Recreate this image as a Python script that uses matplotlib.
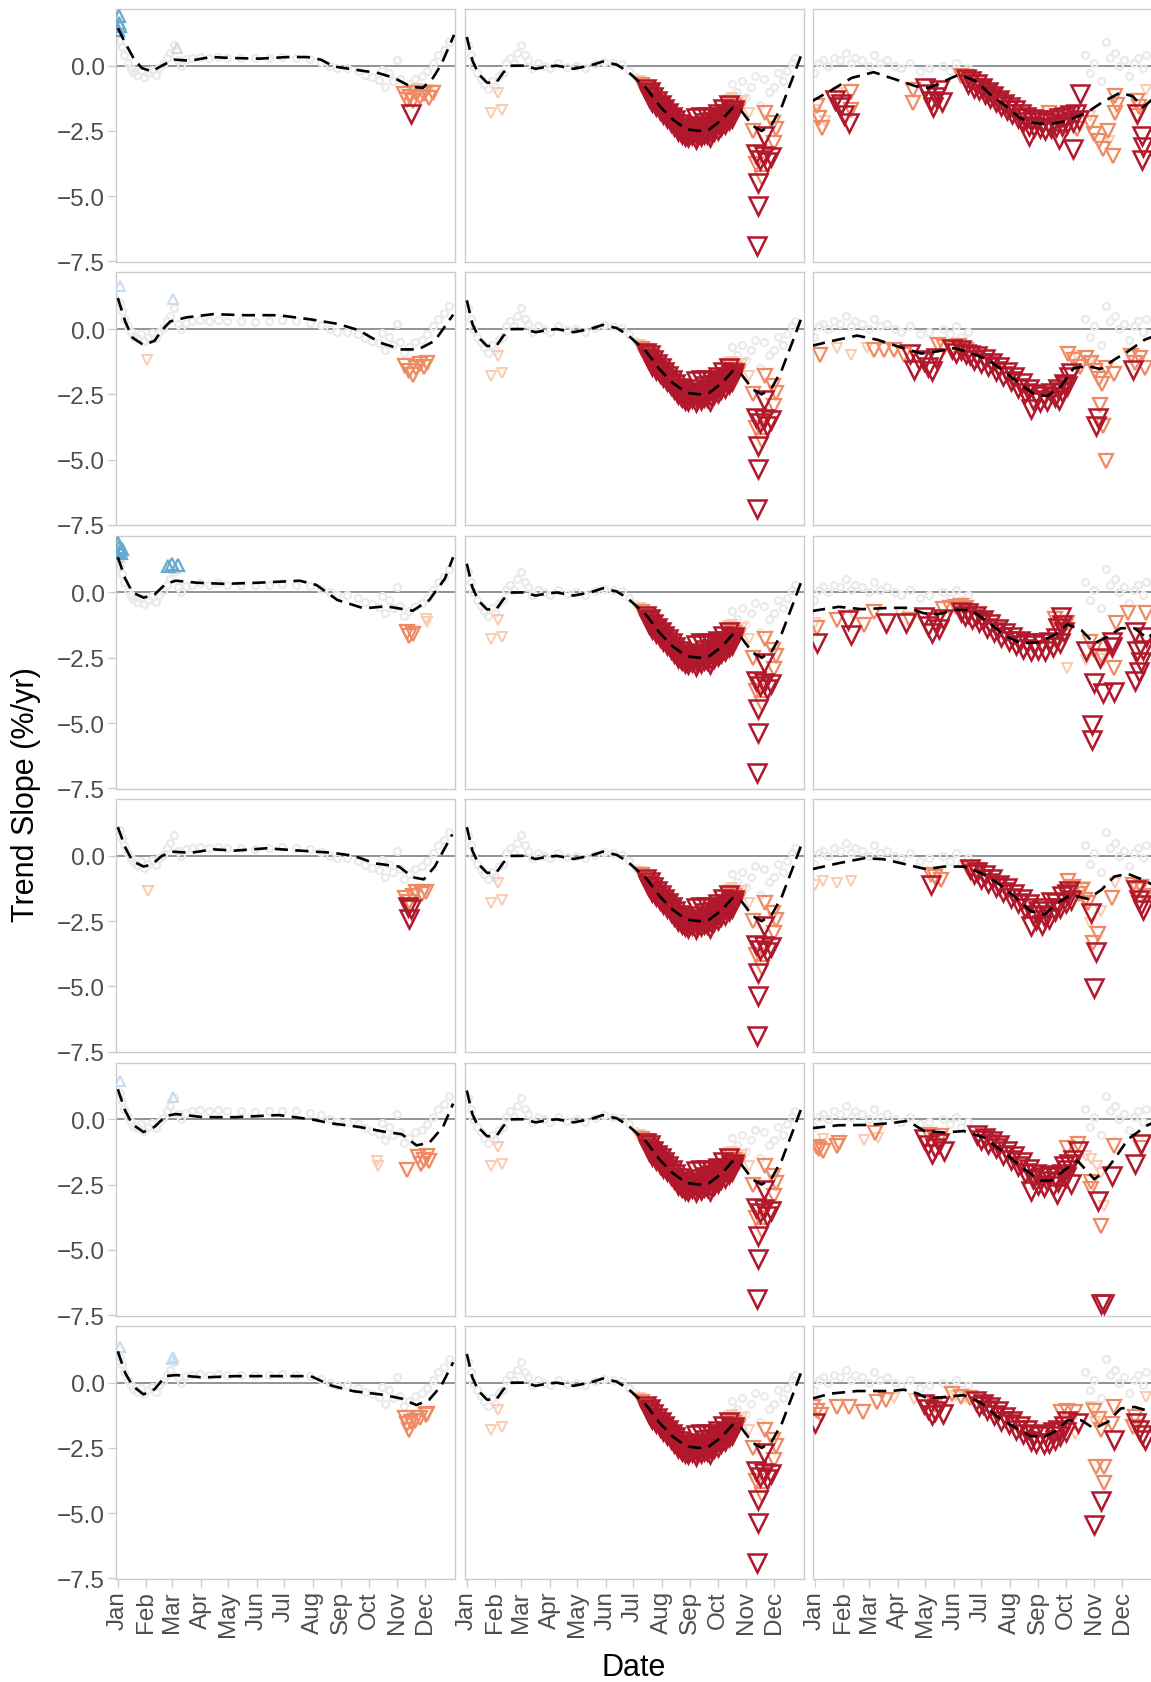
import matplotlib
matplotlib.use('Agg')
import matplotlib.pyplot as plt

plt.rcParams['font.family'] = ['Liberation Sans', 'DejaVu Sans']

months = ['Jan', 'Feb', 'Mar', 'Apr', 'May', 'Jun', 'Jul', 'Aug', 'Sep', 'Oct', 'Nov', 'Dec']
month_days = [1, 32, 60, 91, 121, 152, 182, 213, 244, 274, 305, 335]
y_ticks = [-7.5, -5.0, -2.5, 0.0]
y_tick_labels = ['\u22127.5', '\u22125.0', '\u22122.5', '0.0']

# smoothed trend curves (day of year, slope)
r1c1_curve = [(1, 1.44), (9, 0.87), (18, 0.29), (27, -0.09), (38, -0.22), (51, 0.04), (62, 0.23), (80, 0.19),
              (102, 0.33), (127, 0.29), (156, 0.27), (186, 0.33), (207, 0.33), (222, 0.23), (236, -0.03),
              (258, -0.15), (284, -0.28), (302, -0.47), (320, -0.81), (333, -0.85), (344, -0.47), (353, 0.04),
              (367, 1.18)]
r2c1_curve = [(1, 1.19), (9, 0.29), (17, -0.33), (29, -0.61), (41, -0.45), (49, -0.04), (58, 0.29), (76, 0.45),
              (105, 0.57), (140, 0.53), (176, 0.53), (211, 0.37), (240, 0.2), (263, -0.04), (287, -0.53),
              (310, -0.78), (328, -0.78), (346, -0.45), (366, 0.55)]
r3c1_curve = [(1, 1.35), (9, 0.53), (17, 0.0), (29, -0.2), (41, -0.08), (53, 0.33), (64, 0.45), (88, 0.37),
              (117, 0.33), (152, 0.37), (199, 0.45), (217, 0.29), (240, -0.29), (269, -0.61), (293, -0.53),
              (322, -0.7), (340, -0.29), (357, 0.53), (366, 1.35)]
r4c1_curve = [(1, 1.1), (9, 0.33), (17, -0.2), (29, -0.41), (38, -0.33), (49, 0.0), (60, 0.16), (81, 0.12),
              (105, 0.25), (128, 0.2), (163, 0.29), (199, 0.2), (234, 0.12), (258, 0.0), (281, -0.29),
              (307, -0.41), (322, -0.82), (334, -0.9), (346, -0.41), (365, 0.82)]
r5c1_curve = [(1, 1.15), (9, 0.33), (17, -0.2), (29, -0.49), (41, -0.29), (53, 0.12), (64, 0.2), (94, 0.08),
              (129, 0.08), (176, 0.16), (211, 0.0), (234, -0.16), (263, -0.29), (293, -0.49), (310, -0.57),
              (326, -1.0), (340, -0.9), (355, -0.29), (366, 0.6)]
r6c1_curve = [(1, 1.2), (9, 0.37), (17, -0.12), (29, -0.45), (41, -0.25), (53, 0.25), (64, 0.29), (94, 0.2),
              (129, 0.25), (176, 0.25), (211, 0.25), (234, -0.12), (258, -0.33), (287, -0.45), (310, -0.61),
              (326, -0.86), (340, -0.65), (353, -0.12), (366, 0.78)]
c2_curve = [(1, 1.1), (7, 0.2), (14, -0.33), (23, -0.65), (33, -0.65), (41, -0.25), (50, 0.0), (62, 0.0),
            (76, -0.12), (88, -0.04), (99, 0.0), (117, -0.12), (135, 0.0), (149, 0.16), (164, 0.04), (176, -0.22),
            (196, -0.85), (211, -1.55), (225, -2.06), (240, -2.44), (254, -2.5), (265, -2.44), (279, -2.06),
            (290, -1.62), (300, -1.74), (312, -2.3), (322, -2.5), (333, -2.25), (344, -1.55), (355, -0.53),
            (366, 0.5)]
r1c3_curve = [(-2, -1.36), (20, -0.92), (41, -0.47), (65, -0.25), (89, -0.53), (111, -0.79), (125, -0.85),
              (144, -0.56), (158, -0.34), (177, -0.6), (194, -1.17), (209, -1.55), (224, -2.0), (238, -2.19),
              (256, -2.25), (275, -2.12), (297, -1.8), (313, -1.42), (333, -1.04), (347, -1.17), (358, -1.6),
              (368, -1.3)]
r2c3_curve = [(-2, -0.64), (18, -0.47), (47, -0.25), (69, -0.41), (91, -0.66), (117, -0.94), (135, -0.85),
              (153, -0.73), (171, -0.92), (189, -1.17), (207, -1.62), (225, -2.12), (240, -2.5), (254, -2.57),
              (269, -2.19), (283, -1.49), (298, -1.42), (312, -1.53), (327, -1.17), (342, -0.85), (360, -0.41),
              (368, -0.3)]
r3c3_curve = [(-2, -0.71), (27, -0.55), (52, -0.64), (84, -0.59), (102, -0.59), (120, -0.8), (135, -0.84),
              (153, -0.67), (171, -0.67), (189, -1.12), (207, -1.63), (225, -1.95), (244, -1.91), (262, -1.63),
              (276, -1.22), (291, -1.44), (305, -1.95), (320, -1.69), (334, -1.37), (349, -1.37), (363, -1.76),
              (368, -1.6)]
r4c3_curve = [(-2, -0.51), (27, -0.28), (55, -0.09), (76, -0.13), (102, -0.34), (122, -0.51), (142, -0.41),
              (163, -0.41), (182, -0.66), (200, -1.04), (218, -1.55), (236, -2.12), (251, -2.25), (265, -1.81),
              (280, -1.49), (298, -1.65), (313, -1.3), (327, -0.79), (342, -0.69), (362, -0.98), (368, -1.1)]
r5c3_curve = [(-2, -0.34), (27, -0.23), (55, -0.22), (84, -0.15), (102, -0.06), (120, -0.45), (142, -0.51),
              (163, -0.45), (185, -0.7), (207, -1.27), (229, -1.91), (247, -2.35), (258, -2.35), (272, -1.97),
              (287, -1.59), (305, -2.29), (316, -2.04), (327, -1.53), (342, -0.76), (362, -0.25), (368, -0.15)]
r6c3_curve = [(-2, -0.61), (18, -0.42), (47, -0.32), (84, -0.32), (98, -0.27), (113, -0.42), (124, -0.61),
              (142, -0.55), (163, -0.48), (182, -0.78), (200, -1.31), (218, -1.69), (236, -2.05), (251, -2.07),
              (265, -1.82), (276, -1.44), (291, -1.44), (305, -1.76), (320, -1.5), (334, -0.99), (349, -0.93),
              (362, -1.06), (368, -1.0)]

# non-significant points (grey circles), one set per column
c1_grey = [(3, 1.0), (5, 0.7), (8, 0.4), (12, 0.1), (15, -0.1), (18, -0.25), (22, -0.35), (26, -0.2), (30, -0.45),
           (34, -0.3), (38, -0.15), (42, -0.35), (46, -0.1), (50, 0.05), (54, 0.3), (58, 0.5), (62, 0.8), (66, 0.2),
           (70, 0.0), (75, 0.25), (82, 0.3), (90, 0.35), (100, 0.3), (110, 0.35), (120, 0.3), (135, 0.3),
           (150, 0.28), (165, 0.3), (180, 0.33), (195, 0.3), (210, 0.25), (222, 0.15), (232, 0.0), (240, -0.1),
           (250, -0.1), (262, -0.2), (270, -0.35), (278, -0.45), (285, -0.55), (288, -0.15), (292, -0.8),
           (296, -0.3), (300, -0.6), (305, 0.2), (308, -0.5), (312, -0.9), (318, -0.7), (325, -0.5), (332, -0.4),
           (338, -0.2), (344, 0.1), (350, 0.4), (356, 0.6), (362, 0.9)]
c2_grey = [(2, 0.8), (5, 0.4), (8, 0.0), (12, -0.3), (16, -0.5), (20, -0.7), (24, -0.9), (28, -0.6), (32, -0.8),
           (36, -0.4), (40, -0.3), (44, 0.1), (48, 0.3), (52, 0.1), (56, 0.5), (60, 0.8), (64, 0.4), (68, 0.2),
           (72, -0.1), (78, 0.1), (85, 0.0), (92, -0.1), (100, 0.1), (110, -0.05), (120, 0.0), (130, -0.1),
           (140, 0.05), (150, 0.15), (160, 0.1), (170, 0.05), (178, -0.2), (185, -0.45), (290, -0.7), (295, -1.0),
           (300, -0.6), (305, -1.2), (310, -0.8), (315, -0.4), (320, -1.5), (325, -0.5), (330, -1.0), (335, -0.8),
           (340, -0.3), (345, -0.6), (350, -0.2), (355, 0.1), (358, 0.3)]
c3_grey = [(0, -0.3), (5, 0.1), (10, 0.2), (15, 0.0), (22, 0.3), (28, 0.2), (35, 0.5), (40, 0.1), (45, 0.3),
           (52, 0.2), (60, 0.0), (65, 0.4), (72, 0.1), (80, 0.2), (88, 0.0), (95, -0.1), (105, 0.1), (115, -0.2),
           (125, -0.1), (140, 0.0), (148, -0.2), (155, 0.1), (160, -0.3), (168, -0.1), (295, 0.4), (300, -0.3),
           (305, 0.1), (312, -0.6), (318, 0.9), (322, 0.3), (328, 0.5), (332, 0.0), (338, 0.2), (343, -0.4),
           (348, 0.1), (353, 0.3), (358, -0.1), (362, 0.4)]

# significant points: (day, slope, level); 3/2/1 = decreasing strong/mid/weak, -2/-1 = increasing mid/weak
r1c1_tri = [(2, 1.9, -2), (2, 1.65, -2), (3, 1.5, -2), (1, 1.35, -2), (65, 0.67, -1),
            (327, -0.9, 1), (340, -0.95, 1),
            (313, -1.1, 2), (316, -1.3, 2), (319, -1.2, 2), (322, -1.35, 2), (326, -1.05, 2), (330, -1.2, 2),
            (334, -1.1, 2), (340, -1.25, 2), (344, -1.05, 2), (320, -1.87, 3)]
r2c1_tri = [(3, 1.64, -1), (61, 1.15, -1), (33, -1.2, 1),
            (314, -1.4, 2), (318, -1.6, 2), (322, -1.75, 2), (326, -1.5, 2), (330, -1.35, 2), (334, -1.45, 2),
            (337, -1.3, 2)]
r3c1_tri = [(1, 1.9, -2), (2, 1.75, -2), (3, 1.6, -2), (4, 1.5, -2), (2, 1.35, -1), (5, 1.65, -2),
            (56, 1.0, -2), (60, 1.1, -2), (63, 0.95, -1), (66, 1.05, -2),
            (336, -1.0, 1), (338, -1.15, 1), (316, -1.5, 2), (318, -1.65, 2), (322, -1.6, 2)]
r4c1_tri = [(34, -1.35, 1), (314, -1.6, 2), (318, -1.75, 2), (322, -1.55, 2), (326, -1.4, 2), (332, -1.45, 2),
            (336, -1.4, 2), (317, -1.95, 3), (318, -2.4, 3), (320, -2.05, 3)]
r5c1_tri = [(3, 1.45, -1), (61, 0.85, -1), (283, -1.6, 1), (284, -1.8, 1),
            (316, -1.95, 2), (328, -1.45, 2), (331, -1.7, 2), (334, -1.55, 2), (337, -1.4, 2), (340, -1.6, 2)]
r6c1_tri = [(3, 1.35, -1), (60, 0.9, -1), (61, 1.0, -1),
            (314, -1.35, 2), (316, -1.6, 2), (318, -1.8, 2), (320, -1.5, 2), (324, -1.45, 2), (330, -1.35, 2),
            (336, -1.25, 2), (338, -1.2, 2)]

c2_tri = [(27, -1.8, 1), (39, -1.7, 1), (35, -1.05, 1), (190, -0.6, 1), (193, -0.7, 1),
          (192, -0.75, 2), (195, -0.85, 2), (198, -0.95, 2), (201, -1.1, 2),
          (286, -1.3, 1), (290, -1.25, 1), (294, -1.4, 1), (298, -1.5, 1), (300, -1.35, 1), (308, -1.8, 1),
          (288, -1.45, 2), (292, -1.55, 2), (296, -1.7, 2),
          (326, -1.8, 2), (313, -2.5, 2), (334, -2.19, 2), (316, -3.78, 2), (322, -4.29, 2), (335, -2.95, 2),
          (338, -2.44, 2),
          (325, -2.7, 3), (316, -3.4, 3), (320, -3.6, 3), (324, -3.45, 3), (328, -3.7, 3), (332, -3.5, 3),
          (318, -4.48, 3), (318, -5.37, 3), (317, -6.9, 3)]
c2_band = [(196, -0.9), (198, -1.1), (200, -1.0), (202, -1.3), (204, -1.2), (206, -1.45), (208, -1.35), (210, -1.6),
           (212, -1.5), (214, -1.75), (216, -1.65), (218, -1.9), (220, -1.8), (222, -2.05), (224, -1.95),
           (226, -2.25), (228, -2.1), (230, -2.4), (232, -2.25), (234, -2.55), (236, -2.35), (238, -2.7),
           (240, -2.45), (242, -2.75), (244, -2.5), (246, -2.65), (248, -2.4), (250, -2.8), (252, -2.55),
           (254, -2.3), (256, -2.7), (258, -2.45), (260, -2.2), (262, -2.6), (264, -2.35), (266, -2.75),
           (268, -2.3), (270, -2.5), (272, -2.15), (274, -2.45), (276, -2.05), (278, -2.3), (280, -1.95),
           (282, -2.25), (284, -1.85), (286, -2.1), (288, -1.75), (290, -2.0), (292, -1.7), (250, -2.0),
           (256, -1.95), (262, -1.95), (268, -2.0), (274, -1.85), (280, -1.65), (286, -1.5),
           (199, -1.2), (203, -1.4), (207, -1.55), (211, -1.7), (215, -1.85), (219, -2.0), (223, -2.15),
           (227, -2.3), (231, -2.5), (235, -2.6), (239, -2.6), (243, -2.6), (247, -2.55), (251, -2.65),
           (255, -2.55), (259, -2.6), (263, -2.5), (267, -2.55), (271, -2.35), (275, -2.25), (279, -2.15),
           (283, -2.0), (287, -1.9), (291, -1.85)]

r1c3_tri = [(3, -1.55, 2), (5, -2.0, 2), (9, -2.38, 2), (40, -1.0, 2), (40, -1.68, 2), (108, -0.92, 2),
            (108, -1.42, 2), (160, -0.4, 2), (165, -0.45, 2), (170, -0.55, 2), (176, -0.65, 2), (256, -1.8, 2),
            (286, -2.44, 2), (301, -2.2, 2), (305, -2.6, 2), (310, -2.9, 2), (315, -3.2, 2), (320, -2.5, 2),
            (326, -3.45, 2), (328, -1.17, 2), (330, -1.5, 2), (328, -1.8, 2), (352, -1.36, 2), (354, -1.6, 2),
            (352, -1.93, 2),
            (0, -1.68, 1), (12, -2.12, 1), (26, -1.04, 1), (301, -1.93, 1), (321, -2.88, 1), (361, -0.92, 1),
            (23, -1.3, 3), (28, -1.6, 3), (33, -1.9, 3), (38, -2.19, 3), (30, -1.45, 3), (121, -0.85, 3),
            (124, -1.1, 3), (127, -1.35, 3), (130, -1.6, 3), (133, -1.2, 3), (136, -0.95, 3), (139, -1.4, 3),
            (352, -1.87, 3), (357, -2.7, 3), (358, -3.1, 3), (357, -3.6, 3), (234, -2.7, 3), (267, -2.82, 3),
            (282, -3.2, 3), (290, -1.1, 3)]
r1c3_band = [(165, -0.5), (168, -0.7), (171, -0.6), (174, -0.85), (177, -0.7), (180, -0.95), (183, -0.85),
             (186, -1.1), (189, -1.0), (192, -1.25), (195, -1.15), (198, -1.4), (201, -1.3), (204, -1.55),
             (207, -1.45), (210, -1.7), (213, -1.6), (216, -1.85), (219, -1.7), (222, -2.0), (225, -1.85),
             (228, -2.15), (231, -1.95), (234, -2.3), (237, -2.05), (240, -2.35), (243, -2.1), (246, -2.4),
             (249, -2.15), (252, -2.45), (255, -2.2), (258, -2.4), (261, -2.1), (264, -2.35), (267, -2.0),
             (270, -2.3), (273, -1.95), (276, -2.25), (279, -1.9), (282, -2.15), (285, -1.85), (288, -2.1)]

r2c3_tri = [(7, -0.98, 2), (65, -0.79, 2), (76, -0.79, 2), (87, -0.79, 2), (98, -0.98, 2), (135, -0.6, 2),
            (142, -0.7, 2), (150, -0.75, 2), (158, -0.65, 2), (165, -0.8, 2), (277, -0.95, 2), (283, -1.2, 2),
            (290, -1.45, 2), (296, -1.1, 2), (302, -1.3, 2), (306, -1.6, 2), (310, -1.9, 2), (314, -2.12, 2),
            (318, -1.5, 2), (311, -2.89, 2), (315, -3.7, 2), (318, -5.05, 2), (327, -1.74, 2), (345, -1.04, 2),
            (350, -1.3, 2), (355, -1.1, 2), (360, -1.49, 2),
            (25, -0.73, 1), (40, -0.98, 1), (58, -0.73, 1), (286, -1.05, 1), (300, -1.25, 1),
            (105, -0.95, 3), (109, -1.55, 3), (114, -1.2, 3), (120, -1.23, 3), (124, -1.45, 3), (129, -1.62, 3),
            (133, -1.1, 3), (309, -3.4, 3), (307, -3.7, 3), (347, -1.55, 3)]
r2c3_band = [(150, -0.75), (155, -0.9), (160, -0.8), (165, -0.95), (170, -1.0), (174, -1.2), (178, -1.05),
             (182, -1.3), (186, -1.15), (190, -1.4), (194, -1.3), (198, -1.6), (202, -1.45), (206, -1.8),
             (210, -1.65), (214, -2.0), (218, -1.85), (222, -2.25), (226, -2.05), (230, -2.45), (234, -2.3),
             (238, -2.7), (236, -3.08), (242, -2.5), (246, -2.8), (250, -2.55), (254, -2.75), (258, -2.45),
             (262, -2.6), (266, -2.3), (267, -2.7), (270, -2.4), (272, -2.1), (275, -2.2), (278, -1.85),
             (280, -1.7)]

r3c3_tri = [(1, -1.18, 1), (44, -0.87, 1), (94, -0.8, 1), (276, -2.9, 1), (296, -2.6, 1), (311, -2.55, 1),
            (3, -1.37, 2), (25, -1.06, 2), (55, -1.25, 2), (65, -0.74, 2), (105, -1.06, 2), (140, -0.65, 2),
            (148, -0.6, 2), (155, -0.55, 2), (160, -0.5, 2), (165, -0.6, 2), (262, -1.0, 2), (276, -1.18, 2),
            (300, -1.9, 2), (305, -2.2, 2), (315, -2.5, 2), (327, -2.9, 2), (329, -1.18, 2), (342, -0.8, 2),
            (361, -0.8, 2),
            (3, -1.95, 3), (37, -1.06, 3), (40, -1.63, 3), (78, -1.18, 3), (100, -1.18, 3), (120, -0.95, 3),
            (124, -1.3, 3), (128, -1.55, 3), (132, -1.15, 3), (136, -1.4, 3), (140, -1.0, 3), (269, -0.93, 3),
            (296, -2.26, 3), (311, -2.5, 3), (305, -3.47, 3), (315, -3.85, 3), (327, -3.8, 3), (303, -5.06, 3),
            (303, -5.64, 3), (325, -1.9, 3), (325, -2.1, 3), (349, -1.5, 3), (352, -2.26, 3), (356, -2.65, 3),
            (354, -3.03, 3), (350, -3.4, 3), (358, -2.2, 3), (362, -1.7, 3)]
r3c3_band = [(160, -0.75), (164, -0.9), (168, -0.8), (172, -1.0), (176, -0.9), (180, -1.15), (184, -1.05),
             (188, -1.35), (192, -1.2), (196, -1.5), (200, -1.4), (204, -1.7), (208, -1.55), (212, -1.85),
             (216, -1.7), (220, -2.0), (224, -1.85), (228, -2.15), (232, -1.95), (236, -2.25), (240, -2.0),
             (244, -2.2), (248, -1.95), (252, -2.25), (256, -1.9), (260, -2.1), (264, -1.75), (268, -1.95),
             (272, -1.5), (270, -1.25), (266, -1.35)]

r4c3_tri = [(1, -1.1, 1), (10, -0.98, 1), (25, -1.04, 1), (40, -0.98, 1), (300, -2.57, 1), (313, -2.12, 1),
            (328, -1.04, 1), (295, -1.2, 1),
            (127, -0.73, 2), (132, -0.8, 2), (138, -0.92, 2), (168, -0.45, 2), (172, -0.5, 2), (176, -0.55, 2),
            (277, -0.98, 2), (282, -1.2, 2), (288, -1.45, 2), (292, -1.3, 2), (295, -1.68, 2), (298, -1.8, 2),
            (309, -3.0, 2), (304, -3.33, 2), (324, -1.6, 2), (347, -1.1, 2), (352, -1.3, 2), (356, -1.2, 2),
            (360, -1.55, 2),
            (127, -1.1, 3), (302, -2.19, 3), (307, -3.7, 3), (305, -5.05, 3), (351, -1.3, 3), (354, -1.7, 3),
            (356, -1.9, 3), (358, -2.06, 3)]
r4c3_band = [(170, -0.5), (174, -0.7), (178, -0.6), (182, -0.9), (186, -0.75), (190, -1.05), (194, -0.9),
             (198, -1.2), (202, -1.1), (206, -1.4), (210, -1.25), (214, -1.6), (218, -1.45), (222, -1.8),
             (226, -1.65), (230, -2.0), (234, -1.85), (236, -2.7), (238, -2.25), (242, -2.45), (244, -2.1),
             (248, -2.65), (250, -2.3), (252, -2.0), (256, -2.4), (258, -1.75), (262, -2.1), (264, -1.8),
             (268, -2.0), (270, -1.55), (274, -1.8), (276, -1.45), (280, -1.7), (278, -1.35)]

r5c3_tri = [(3, -1.08, 2), (6, -1.15, 2), (10, -1.21, 2), (25, -1.02, 2), (27, -0.9, 2), (67, -0.51, 2),
            (125, -0.6, 2), (132, -0.75, 2), (138, -0.65, 2), (287, -0.95, 2), (276, -1.1, 2), (302, -2.42, 2),
            (302, -2.67, 2), (313, -4.07, 2), (327, -1.02, 2), (356, -1.1, 2),
            (10, -0.76, 1), (55, -0.79, 1), (70, -0.7, 1), (302, -1.53, 1), (308, -1.8, 1), (313, -2.04, 1),
            (316, -3.31, 1), (296, -1.4, 1),
            (120, -0.75, 3), (124, -1.0, 3), (128, -1.34, 3), (132, -1.1, 3), (136, -0.9, 3), (142, -1.2, 3),
            (287, -1.21, 3), (309, -3.12, 3), (313, -7.06, 3), (316, -7.06, 3), (325, -2.16, 3), (349, -1.72, 3),
            (356, -0.95, 3)]
r5c3_band = [(178, -0.6), (182, -0.8), (186, -0.7), (190, -0.95), (194, -0.85), (198, -1.1), (202, -1.0),
             (206, -1.35), (210, -1.2), (214, -1.55), (218, -1.4), (222, -1.8), (226, -1.65), (230, -2.05),
             (234, -1.9), (236, -2.74), (238, -2.3), (242, -2.1), (244, -2.5), (248, -2.2), (250, -2.6),
             (254, -2.35), (256, -2.15), (260, -2.55), (262, -2.2), (265, -2.86), (266, -2.4), (270, -2.1),
             (272, -1.8), (274, -2.2), (276, -1.95), (278, -1.7), (280, -2.48), (282, -1.55)]

r6c3_tri = [(-1, -0.95, 2), (3, -1.1, 2), (8, -1.25, 2), (25, -0.93, 2), (38, -0.93, 2), (53, -1.12, 2),
            (69, -0.74, 2), (78, -0.67, 2), (132, -0.85, 2), (150, -0.45, 2), (160, -0.55, 2), (170, -0.6, 2),
            (269, -1.12, 2), (276, -1.1, 2), (284, -1.12, 2), (305, -1.1, 2), (310, -1.4, 2), (313, -1.8, 2),
            (307, -3.22, 2), (316, -3.22, 2), (316, -3.85, 2), (325, -1.6, 2), (327, -0.93, 2), (349, -1.31, 2),
            (347, -1.7, 2),
            (87, -0.57, 1), (109, -0.61, 1), (155, -0.5, 1), (165, -0.6, 1), (284, -1.95, 1), (302, -0.93, 1),
            (306, -1.5, 1), (362, -0.55, 1),
            (1, -1.56, 3), (120, -0.8, 3), (124, -1.0, 3), (128, -1.25, 3), (132, -1.1, 3), (136, -0.9, 3),
            (140, -1.2, 3), (287, -1.56, 3), (313, -4.55, 3), (305, -5.44, 3), (327, -2.2, 3), (351, -1.56, 3),
            (354, -1.8, 3), (357, -2.0, 3), (360, -2.2, 3)]
r6c3_band = [(176, -0.7), (180, -0.9), (184, -0.8), (188, -1.05), (192, -0.95), (196, -1.25), (200, -1.1),
             (204, -1.45), (208, -1.3), (212, -1.6), (216, -1.45), (220, -1.8), (224, -1.65), (228, -1.95),
             (232, -1.8), (236, -2.25), (240, -2.0), (242, -2.3), (246, -2.05), (250, -2.35), (252, -1.95),
             (256, -2.3), (260, -1.9), (262, -2.2), (266, -1.8), (268, -2.05), (272, -1.65), (274, -1.9),
             (276, -1.45)]

grid = [
    [(r1c1_curve, c1_grey, r1c1_tri, []), (c2_curve, c2_grey, c2_tri, c2_band), (r1c3_curve, c3_grey, r1c3_tri, r1c3_band)],
    [(r2c1_curve, c1_grey, r2c1_tri, []), (c2_curve, c2_grey, c2_tri, c2_band), (r2c3_curve, c3_grey, r2c3_tri, r2c3_band)],
    [(r3c1_curve, c1_grey, r3c1_tri, []), (c2_curve, c2_grey, c2_tri, c2_band), (r3c3_curve, c3_grey, r3c3_tri, r3c3_band)],
    [(r4c1_curve, c1_grey, r4c1_tri, []), (c2_curve, c2_grey, c2_tri, c2_band), (r4c3_curve, c3_grey, r4c3_tri, r4c3_band)],
    [(r5c1_curve, c1_grey, r5c1_tri, []), (c2_curve, c2_grey, c2_tri, c2_band), (r5c3_curve, c3_grey, r5c3_tri, r5c3_band)],
    [(r6c1_curve, c1_grey, r6c1_tri, []), (c2_curve, c2_grey, c2_tri, c2_band), (r6c3_curve, c3_grey, r6c3_tri, r6c3_band)],
]

colors = {3: '#B2182B', 2: '#EF8A62', 1: '#FBCBB1', -1: '#C6DBEF', -2: '#67A9CF'}
sizes = {3: 12.5, 2: 9.5, 1: 7, -1: 7, -2: 8.5}
widths = {3: 1.8, 2: 1.6, 1: 1.4, -1: 1.4, -2: 1.6}

W, H = 1151, 1683
fig = plt.figure(figsize=(W / 100, H / 100), dpi=100)

col_left = [116, 465, 813]
panel_w, panel_h = 339, 253
row_step = 263.4

for r in range(6):
    for c in range(3):
        curve, grey, tri, band = grid[r][c]
        top = 10 + r * row_step
        ax = fig.add_axes([col_left[c] / W, 1 - (top + panel_h) / H, panel_w / W, panel_h / H])
        ax.axhline(0, color='#808080', lw=1.2, zorder=1)

        ax.plot([p[0] for p in grey], [p[1] for p in grey], 'o', ms=5, mfc='none', mec='#EAEAEA',
                mew=1.6, zorder=2)

        for lvl in [1, -1, -2, 2, 3]:
            pts = [(d, v) for d, v, l in tri if l == lvl]
            if lvl == 3:
                pts = pts + band
            if not pts:
                continue
            ax.plot([p[0] for p in pts], [p[1] for p in pts], 'v' if lvl > 0 else '^',
                    ms=sizes[lvl], mfc='none', mec=colors[lvl], mew=widths[lvl], zorder=3 + abs(lvl) * 0.1)

        ax.plot([p[0] for p in curve], [p[1] for p in curve], color='black', lw=1.9,
                dashes=(5, 2.8), zorder=6)

        ax.set_xlim(-1, 368)
        ax.set_ylim(-7.52, 2.17)
        for s in ax.spines.values():
            s.set_color('#CCCCCC')
            s.set_linewidth(1.0)

        ax.set_yticks(y_ticks)
        ax.set_xticks(month_days)
        if c == 0:
            ax.set_yticklabels(y_tick_labels)
            ax.tick_params(axis='y', length=6, width=1, color='#CCCCCC', labelcolor='#4D4D4D',
                           labelsize=17.5, pad=2)
        else:
            ax.tick_params(axis='y', left=False, labelleft=False)
        if r == 5:
            ax.set_xticklabels(months, rotation=90)
            ax.tick_params(axis='x', length=6, width=1, color='#CCCCCC', labelcolor='#4D4D4D',
                           labelsize=17.5, pad=2)
        else:
            ax.tick_params(axis='x', bottom=False, labelbottom=False)

fig.text(634 / W, 1 - 1668 / H, 'Date', ha='center', va='center', fontsize=22)
fig.text(26 / W, 1 - 795 / H, 'Trend Slope (%/yr)', ha='center', va='center', rotation=90, fontsize=22)

fig.savefig('out.png', dpi=100)
